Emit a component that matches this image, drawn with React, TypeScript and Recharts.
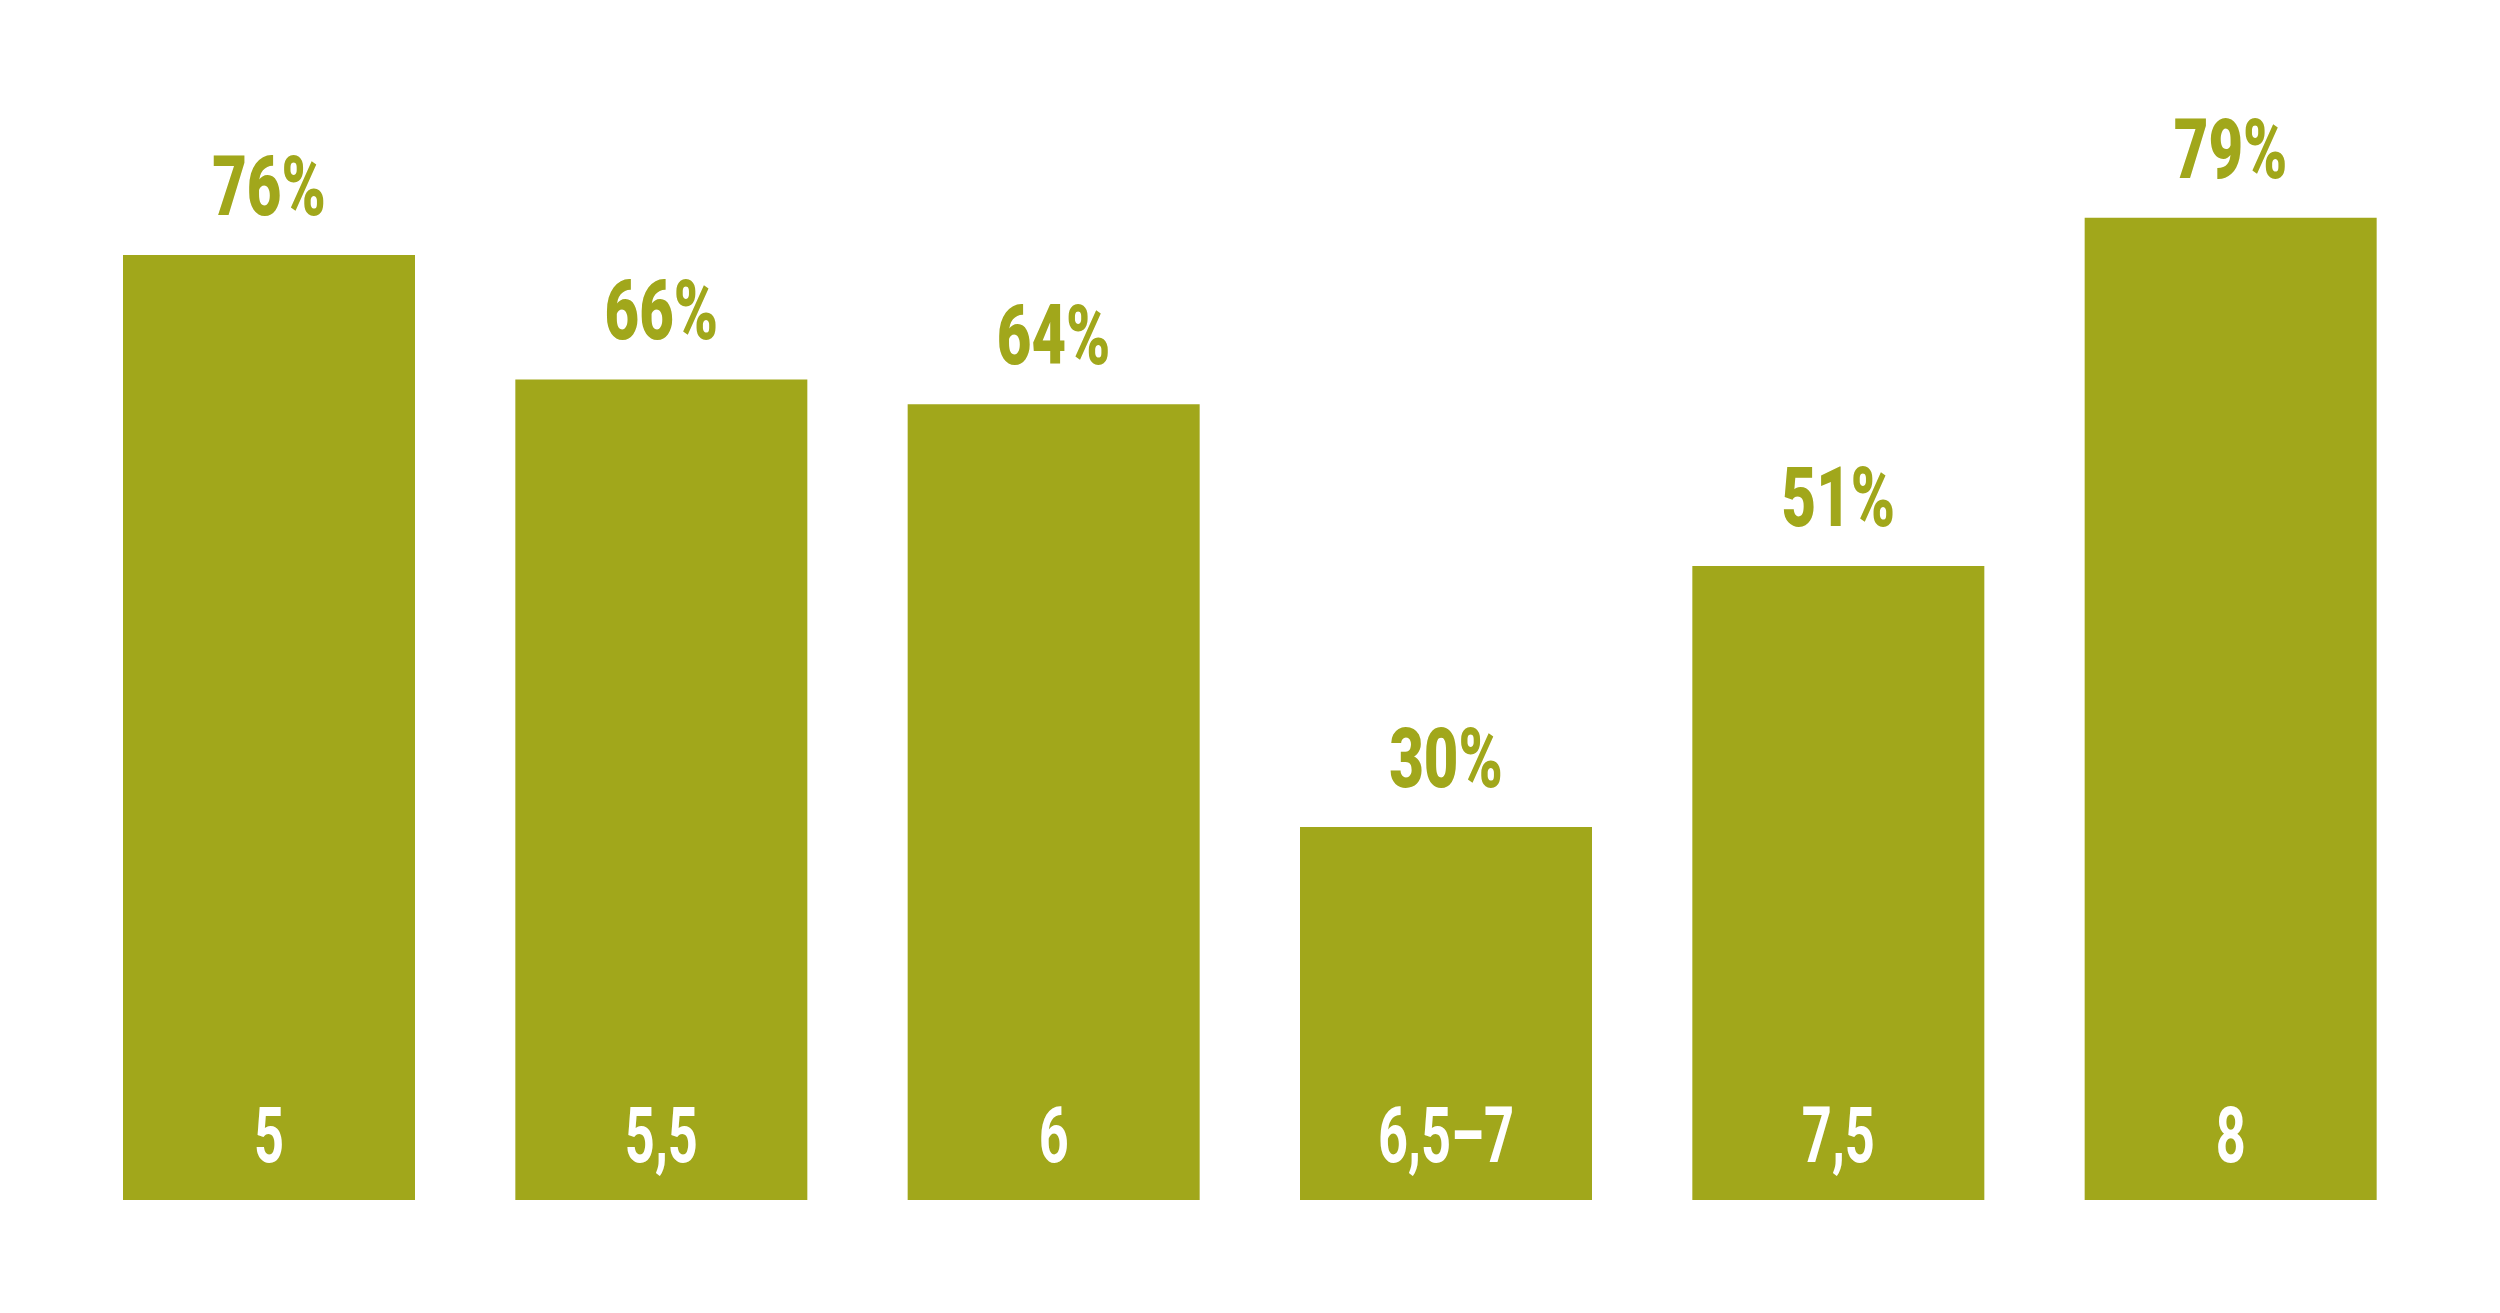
import { BarChart, Bar, XAxis, YAxis, LabelList } from 'recharts';

const categories = ['5', '5,5', '6', '6,5–7', '7,5', '8'];
const shares = [76, 66, 64, 30, 51, 79];

const data = categories.map((name, i) => ({ name, value: shares[i] }));

const GREEN = '#A1A71B';
const FONT = 'Roboto, "DejaVu Sans", sans-serif';

// condensed look: squeeze the glyphs horizontally around the label centre
const renderTop = (props: any) => {
  const { x, y, width, value } = props;
  return (
    <text
      transform={`translate(${x + width / 2}, ${y - 40}) scale(0.72, 1)`}
      textAnchor="middle"
      fontFamily={FONT}
      fontWeight={900}
      fontSize={83}
      fill={GREEN}
    >
      {value}%
    </text>
  );
};

const renderBottom = (props: any) => {
  const { x, y, width, height, value } = props;
  return (
    <text
      transform={`translate(${x + width / 2}, ${y + height - 38}) scale(0.68, 1)`}
      textAnchor="middle"
      fontFamily={FONT}
      fontWeight={700}
      fontSize={77}
      fill="#FFFFFF"
    >
      {value}
    </text>
  );
};

export default function App() {
  return (
    <div style={{ width: 2484, height: 1297, background: '#fff' }}>
      <BarChart
        width={2484}
        height={1297}
        data={data}
        margin={{ top: 73, right: 65, bottom: 105, left: 65 }}
      >
        <XAxis dataKey="name" hide />
        <YAxis domain={[0, 90]} hide />
        <Bar dataKey="value" fill={GREEN} barSize={292} isAnimationActive={false}>
          <LabelList dataKey="value" content={renderTop} />
          <LabelList dataKey="name" content={renderBottom} />
        </Bar>
      </BarChart>
    </div>
  );
}
